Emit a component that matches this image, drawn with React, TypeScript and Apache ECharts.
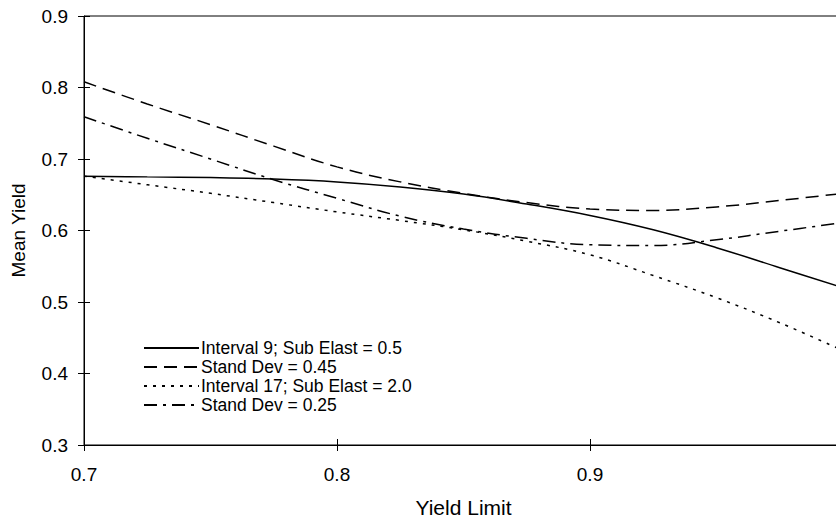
import React, { useEffect, useRef } from "react";
import * as echarts from "echarts";

const xValues = [0.7, 0.725, 0.75, 0.775, 0.8, 0.825, 0.85, 0.875, 0.9, 0.925, 0.95, 0.975, 1.0];
const interval9Elast05 = [0.676, 0.675, 0.674, 0.672, 0.668, 0.661, 0.651, 0.637, 0.621, 0.601, 0.576, 0.548, 0.52];
const standDev045 = [0.808, 0.777, 0.748, 0.718, 0.689, 0.668, 0.652, 0.639, 0.630, 0.628, 0.633, 0.642, 0.652];
const interval17Elast20 = [0.676, 0.664, 0.652, 0.639, 0.626, 0.614, 0.601, 0.585, 0.566, 0.537, 0.506, 0.471, 0.432];
const standDev025 = [0.759, 0.729, 0.700, 0.671, 0.645, 0.620, 0.602, 0.589, 0.580, 0.579, 0.587, 0.599, 0.611];

const seriesNames = [
  "Interval 9; Sub Elast = 0.5",
  "Stand Dev = 0.45",
  "Interval 17; Sub Elast = 2.0",
  "Stand Dev = 0.25",
];
const xTitle = "Yield Limit";
const yTitle = "Mean Yield";

export default function App() {
  const ref = useRef<HTMLDivElement>(null);
  useEffect(() => {
    if (!ref.current) return;
    const chart = echarts.init(ref.current, null, { renderer: "svg" });
    const font = "Liberation Sans";
    const pair = (ys: number[]) => xValues.map((x, i) => [x, ys[i]]);
    const dashes: any[] = ["solid", [13, 7], [3, 6], [13, 6, 3, 6]];
    const datasets = [interval9Elast05, standDev045, interval17Elast20, standDev025];
    const axisCommonX = { type: "value", min: 0.7, max: 1.0, interval: 0.1 };
    const axisCommonY = { type: "value", min: 0.3, max: 0.9, interval: 0.1 };
    chart.setOption({
      animation: false,
      backgroundColor: "#fff",
      textStyle: { fontFamily: font },
      grid: {
        left: 84,
        top: 16,
        width: 759,
        height: 429,
        outerBoundsMode: "none",
        containLabel: false,
        show: true,
        borderColor: "#000",
        borderWidth: 1,
      },
      legend: {
        orient: "vertical",
        left: 143,
        top: 338.5,
        itemWidth: 55,
        itemHeight: 12,
        itemGap: 0,
        padding: 0,
        itemStyle: { color: "rgba(0,0,0,0)", borderColor: "rgba(0,0,0,0)", borderWidth: 0 },
        textStyle: { fontFamily: font, fontSize: 17.5, lineHeight: 19, color: "#000", padding: [0, 0, 0, -3] },
        data: seriesNames,
      },
      xAxis: [
        {
          ...axisCommonX,
          position: "bottom",
          name: xTitle,
          nameLocation: "middle",
          nameGap: 52,
          nameTextStyle: { fontFamily: font, fontSize: 21, color: "#000" },
          axisLine: { show: true, lineStyle: { color: "#000", width: 1 } },
          axisTick: { show: true, length: 6, lineStyle: { color: "#000" } },
          axisLabel: { fontFamily: font, fontSize: 19, color: "#000", margin: 20 },
          splitLine: { show: false },
        },
        {
          ...axisCommonX,
          position: "bottom",
          axisLine: { show: false },
          axisTick: { show: true, inside: true, length: 6, lineStyle: { color: "#000" } },
          axisLabel: { show: false },
          splitLine: { show: false },
        },
      ],
      yAxis: [
        {
          ...axisCommonY,
          position: "left",
          name: yTitle,
          nameLocation: "middle",
          nameGap: 56,
          nameTextStyle: { fontFamily: font, fontSize: 19, color: "#000" },
          axisLine: { show: true, lineStyle: { color: "#000", width: 1 } },
          axisTick: { show: true, length: 6, lineStyle: { color: "#000" } },
          axisLabel: { fontFamily: font, fontSize: 19, color: "#000", margin: 16 },
          splitLine: { show: false },
        },
        {
          ...axisCommonY,
          position: "left",
          axisLine: { show: false },
          axisTick: { show: true, inside: true, length: 6, lineStyle: { color: "#000" } },
          axisLabel: { show: false },
          splitLine: { show: false },
        },
      ],
      series: seriesNames.map((name, i) => ({
        name,
        type: "line",
        xAxisIndex: 0,
        yAxisIndex: 0,
        data: pair(datasets[i]),
        smooth: 0.4,
        showSymbol: false,
        symbol: "none",
        lineStyle: { color: "#000", width: 1.5, type: dashes[i] },
        itemStyle: { color: "#000" },
      })),
    });
    return () => chart.dispose();
  }, []);
  return <div ref={ref} style={{ width: 836, height: 520, position: "absolute", left: 0, top: 0 }} />;
}
